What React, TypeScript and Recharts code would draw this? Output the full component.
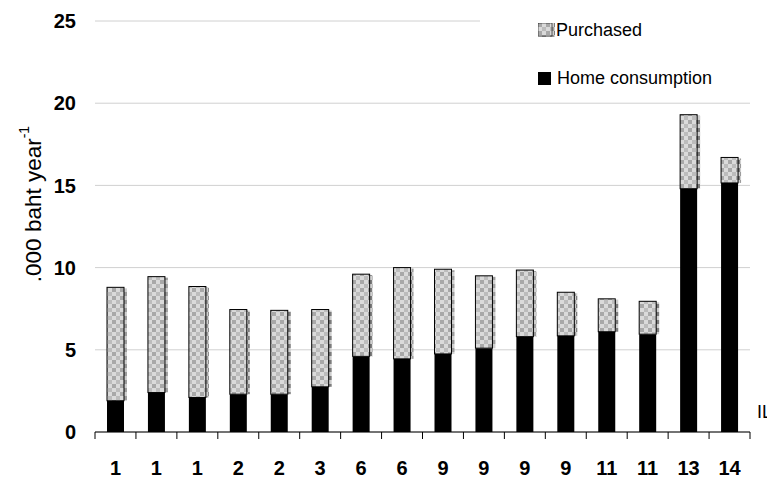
import { BarChart, Bar, XAxis, YAxis, CartesianGrid, Legend } from "recharts";

const categories = ["1", "1", "1", "2", "2", "3", "6", "6", "9", "9", "9", "9", "11", "11", "13", "14"];
const homeConsumption = [1.9, 2.4, 2.1, 2.3, 2.3, 2.75, 4.6, 4.45, 4.75, 5.1, 5.8, 5.85, 6.1, 5.95, 14.8, 15.15];
const purchased = [6.9, 7.05, 6.75, 5.15, 5.1, 4.7, 5.0, 5.55, 5.15, 4.4, 4.05, 2.65, 2.0, 2.0, 4.5, 1.55];
const yTicks = [0, 5, 10, 15, 20, 25];

const data = categories.map((c, i) => ({
  name: c,
  home: homeConsumption[i],
  purchased: purchased[i],
}));

const W = 767;
const H = 471;
const margin = { top: 13, right: 25, bottom: 0, left: 27 };
const yAxisWidth = 60;
const plotWidth = W - margin.left - margin.right - yAxisWidth;
const band = plotWidth / categories.length;
const font = "'Liberation Sans', Arial, sans-serif";

function XTick(props: any) {
  const { x, y, payload, index } = props;
  const last = index === categories.length - 1;
  return (
    <g>
      <line x1={x - band / 2} x2={x - band / 2} y1={y} y2={y + 7} stroke="#000" />
      {last && <line x1={x + band / 2} x2={x + band / 2} y1={y} y2={y + 7} stroke="#000" />}
      <text x={x} y={y + 36} textAnchor="middle" dominantBaseline="central" fontWeight="bold" fontSize={20} fill="#000">
        {payload.value}
      </text>
    </g>
  );
}

function PurchasedShape(props: any) {
  const { x, y, width, height } = props;
  if (!height) return null;
  return (
    <g>
      <rect x={x + 3} y={y + 1} width={width} height={height - 1} fill="url(#checkDark)" />
      <rect x={x} y={y} width={width} height={height} fill="url(#check)" stroke="#000" strokeWidth={1} />
    </g>
  );
}

function LegendBox() {
  return (
    <div style={{ position: "relative", background: "#fff", width: 278, height: 82, fontFamily: font, fontSize: 18, color: "#000" }}>
      <svg width={17} height={14} style={{ position: "absolute", left: 58, top: 7 }}>
        <rect x={0} y={0} width={17} height={14} fill="url(#checkDark)" />
        <rect x={0} y={0} width={14} height={13} fill="url(#check)" stroke="#000" strokeWidth={0.6} />
      </svg>
      <div style={{ position: "absolute", left: 76, top: 3, lineHeight: "22px" }}>Purchased</div>
      <div style={{ position: "absolute", left: 58, top: 56, width: 13, height: 13, background: "#000" }} />
      <div style={{ position: "absolute", left: 77, top: 51, lineHeight: "22px" }}>Home consumption</div>
    </div>
  );
}

export default function App() {
  return (
    <div style={{ fontFamily: font }}>
      <BarChart width={W} height={H} data={data} margin={margin} barSize={17}>
        <defs>
          <pattern id="check" width="8" height="8" patternUnits="userSpaceOnUse">
            <rect width="8" height="8" fill="#dadada" />
            <rect x="0" y="0" width="4" height="4" fill="#a8a8a8" />
            <rect x="4" y="4" width="4" height="4" fill="#bcbcbc" />
          </pattern>
          <pattern id="checkDark" width="8" height="8" patternUnits="userSpaceOnUse">
            <rect width="8" height="8" fill="#cfcfcf" />
            <rect x="0" y="0" width="4" height="4" fill="#7c7c7c" />
            <rect x="4" y="4" width="4" height="4" fill="#9c9c9c" />
          </pattern>
        </defs>
        <CartesianGrid vertical={false} stroke="#d0d0d0" />
        <XAxis
          dataKey="name"
          height={47}
          axisLine={{ stroke: "#000" }}
          tickLine={false}
          tickSize={0}
          tickMargin={0}
          interval={0}
          tick={<XTick />}
        />
        <YAxis
          width={yAxisWidth}
          domain={[0, 25]}
          ticks={yTicks}
          axisLine={false}
          tickLine={false}
          tickSize={0}
          tickMargin={19}
          tick={{ fill: "#000", fontSize: 20, fontWeight: "bold" }}
          label={() => (
            <text
              transform={`translate(25, 196) rotate(-90)`}
              textAnchor="middle"
              dominantBaseline="central"
              fontSize={22.5}
              fill="#000"
            >
              .000 baht year
              <tspan dy={-9} fontSize={14}>-1</tspan>
            </text>
          )}
        />
        <Legend
          layout="horizontal"
          verticalAlign="middle"
          align="center"
          wrapperStyle={{ position: "absolute", left: 472, top: 8, width: 278, height: 82 }}
          content={() => <LegendBox />}
        />
        <Bar dataKey="home" name="Home consumption" stackId="a" fill="#000" isAnimationActive={false} />
        <Bar dataKey="purchased" name="Purchased" stackId="a" shape={<PurchasedShape />} isAnimationActive={false} />
        <text x={749} y={404} dominantBaseline="central" fontSize={18} fill="#000">IL</text>
      </BarChart>
    </div>
  );
}
